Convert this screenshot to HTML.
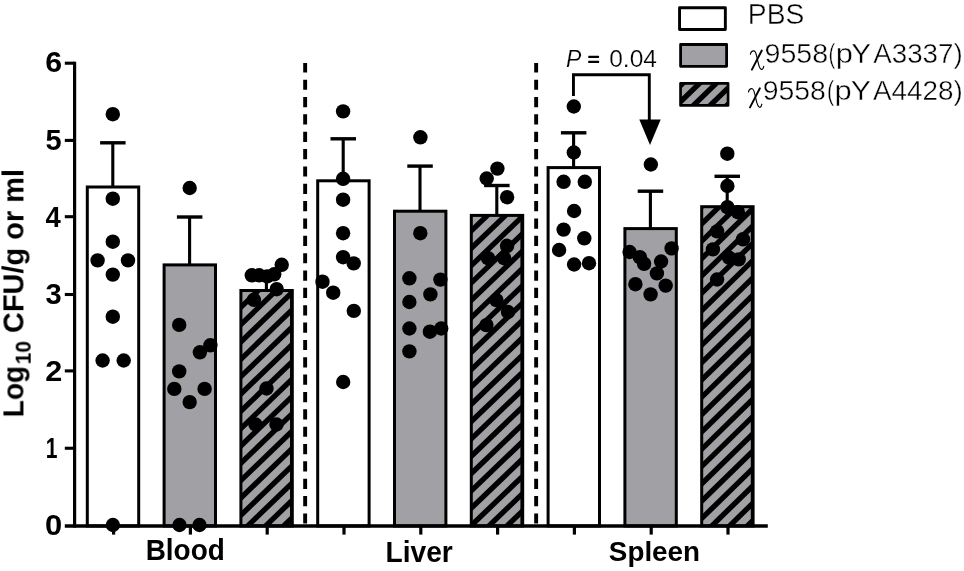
<!DOCTYPE html>
<html><head><meta charset="utf-8"><title>chart</title>
<style>
html,body{margin:0;padding:0;background:#fff;}
body{width:964px;height:571px;overflow:hidden;}
svg{display:block;}
text{font-family:"Liberation Sans",sans-serif;fill:#000;font-kerning:none;will-change:transform;}
</style></head><body>
<svg width="964" height="571" viewBox="0 0 964 571">
<rect width="964" height="571" fill="#fff"/>

<rect x="87.30" y="187.00" width="51.40" height="338.95" fill="#fff"/>
<rect x="87.30" y="187.00" width="51.40" height="338.95" fill="none" stroke="#000" stroke-width="3"/>
<rect x="164.10" y="264.90" width="51.40" height="261.05" fill="#a1a0a5"/>
<rect x="164.10" y="264.90" width="51.40" height="261.05" fill="none" stroke="#000" stroke-width="3"/>
<rect x="240.90" y="290.50" width="51.40" height="235.45" fill="#a1a0a5"/>
<clipPath id="c1"><rect x="240.90" y="290.50" width="51.40" height="235.45"/></clipPath>
<g clip-path="url(#c1)" stroke="#000" stroke-width="5.30">
<line x1="235.90" y1="277.37" x2="297.30" y2="218.12"/>
<line x1="235.90" y1="294.70" x2="297.30" y2="235.45"/>
<line x1="235.90" y1="312.03" x2="297.30" y2="252.78"/>
<line x1="235.90" y1="329.36" x2="297.30" y2="270.11"/>
<line x1="235.90" y1="346.69" x2="297.30" y2="287.44"/>
<line x1="235.90" y1="364.02" x2="297.30" y2="304.77"/>
<line x1="235.90" y1="381.35" x2="297.30" y2="322.10"/>
<line x1="235.90" y1="398.68" x2="297.30" y2="339.43"/>
<line x1="235.90" y1="416.01" x2="297.30" y2="356.76"/>
<line x1="235.90" y1="433.34" x2="297.30" y2="374.09"/>
<line x1="235.90" y1="450.67" x2="297.30" y2="391.42"/>
<line x1="235.90" y1="468.00" x2="297.30" y2="408.75"/>
<line x1="235.90" y1="485.33" x2="297.30" y2="426.08"/>
<line x1="235.90" y1="502.66" x2="297.30" y2="443.41"/>
<line x1="235.90" y1="519.99" x2="297.30" y2="460.74"/>
<line x1="235.90" y1="537.32" x2="297.30" y2="478.07"/>
<line x1="235.90" y1="554.65" x2="297.30" y2="495.40"/>
<line x1="235.90" y1="571.98" x2="297.30" y2="512.73"/>
<line x1="235.90" y1="589.31" x2="297.30" y2="530.06"/>
<line x1="235.90" y1="606.64" x2="297.30" y2="547.39"/>
</g>
<rect x="290.00" y="290.50" width="1.6" height="235.45" fill="#000"/>
<rect x="240.90" y="290.50" width="51.40" height="235.45" fill="none" stroke="#000" stroke-width="3"/>
<rect x="317.70" y="180.80" width="51.40" height="345.15" fill="#fff"/>
<rect x="317.70" y="180.80" width="51.40" height="345.15" fill="none" stroke="#000" stroke-width="3"/>
<rect x="394.50" y="211.20" width="51.40" height="314.75" fill="#a1a0a5"/>
<rect x="394.50" y="211.20" width="51.40" height="314.75" fill="none" stroke="#000" stroke-width="3"/>
<rect x="471.30" y="215.40" width="51.40" height="310.55" fill="#a1a0a5"/>
<clipPath id="c2"><rect x="471.30" y="215.40" width="51.40" height="310.55"/></clipPath>
<g clip-path="url(#c2)" stroke="#000" stroke-width="5.30">
<line x1="466.30" y1="201.02" x2="527.70" y2="142.08"/>
<line x1="466.30" y1="218.35" x2="527.70" y2="159.41"/>
<line x1="466.30" y1="235.68" x2="527.70" y2="176.74"/>
<line x1="466.30" y1="253.01" x2="527.70" y2="194.07"/>
<line x1="466.30" y1="270.34" x2="527.70" y2="211.40"/>
<line x1="466.30" y1="287.67" x2="527.70" y2="228.73"/>
<line x1="466.30" y1="305.00" x2="527.70" y2="246.06"/>
<line x1="466.30" y1="322.33" x2="527.70" y2="263.39"/>
<line x1="466.30" y1="339.66" x2="527.70" y2="280.72"/>
<line x1="466.30" y1="356.99" x2="527.70" y2="298.05"/>
<line x1="466.30" y1="374.32" x2="527.70" y2="315.38"/>
<line x1="466.30" y1="391.65" x2="527.70" y2="332.71"/>
<line x1="466.30" y1="408.98" x2="527.70" y2="350.04"/>
<line x1="466.30" y1="426.31" x2="527.70" y2="367.37"/>
<line x1="466.30" y1="443.64" x2="527.70" y2="384.70"/>
<line x1="466.30" y1="460.97" x2="527.70" y2="402.03"/>
<line x1="466.30" y1="478.30" x2="527.70" y2="419.36"/>
<line x1="466.30" y1="495.63" x2="527.70" y2="436.69"/>
<line x1="466.30" y1="512.96" x2="527.70" y2="454.02"/>
<line x1="466.30" y1="530.29" x2="527.70" y2="471.35"/>
<line x1="466.30" y1="547.62" x2="527.70" y2="488.68"/>
<line x1="466.30" y1="564.95" x2="527.70" y2="506.01"/>
<line x1="466.30" y1="582.28" x2="527.70" y2="523.34"/>
<line x1="466.30" y1="599.61" x2="527.70" y2="540.67"/>
</g>
<rect x="520.40" y="215.40" width="1.6" height="310.55" fill="#000"/>
<rect x="471.30" y="215.40" width="51.40" height="310.55" fill="none" stroke="#000" stroke-width="3"/>
<rect x="548.10" y="167.60" width="51.40" height="358.35" fill="#fff"/>
<rect x="548.10" y="167.60" width="51.40" height="358.35" fill="none" stroke="#000" stroke-width="3"/>
<rect x="624.90" y="228.60" width="51.40" height="297.35" fill="#a1a0a5"/>
<rect x="624.90" y="228.60" width="51.40" height="297.35" fill="none" stroke="#000" stroke-width="3"/>
<rect x="701.70" y="206.70" width="51.40" height="319.25" fill="#a1a0a5"/>
<clipPath id="c3"><rect x="701.70" y="206.70" width="51.40" height="319.25"/></clipPath>
<g clip-path="url(#c3)" stroke="#000" stroke-width="5.30">
<line x1="696.70" y1="194.09" x2="758.10" y2="134.10"/>
<line x1="696.70" y1="211.42" x2="758.10" y2="151.43"/>
<line x1="696.70" y1="228.75" x2="758.10" y2="168.76"/>
<line x1="696.70" y1="246.08" x2="758.10" y2="186.09"/>
<line x1="696.70" y1="263.41" x2="758.10" y2="203.42"/>
<line x1="696.70" y1="280.74" x2="758.10" y2="220.75"/>
<line x1="696.70" y1="298.07" x2="758.10" y2="238.08"/>
<line x1="696.70" y1="315.40" x2="758.10" y2="255.41"/>
<line x1="696.70" y1="332.73" x2="758.10" y2="272.74"/>
<line x1="696.70" y1="350.06" x2="758.10" y2="290.07"/>
<line x1="696.70" y1="367.39" x2="758.10" y2="307.40"/>
<line x1="696.70" y1="384.72" x2="758.10" y2="324.73"/>
<line x1="696.70" y1="402.05" x2="758.10" y2="342.06"/>
<line x1="696.70" y1="419.38" x2="758.10" y2="359.39"/>
<line x1="696.70" y1="436.71" x2="758.10" y2="376.72"/>
<line x1="696.70" y1="454.04" x2="758.10" y2="394.05"/>
<line x1="696.70" y1="471.37" x2="758.10" y2="411.38"/>
<line x1="696.70" y1="488.70" x2="758.10" y2="428.71"/>
<line x1="696.70" y1="506.03" x2="758.10" y2="446.04"/>
<line x1="696.70" y1="523.36" x2="758.10" y2="463.37"/>
<line x1="696.70" y1="540.69" x2="758.10" y2="480.70"/>
<line x1="696.70" y1="558.02" x2="758.10" y2="498.03"/>
<line x1="696.70" y1="575.35" x2="758.10" y2="515.36"/>
<line x1="696.70" y1="592.68" x2="758.10" y2="532.69"/>
<line x1="696.70" y1="610.01" x2="758.10" y2="550.02"/>
</g>
<rect x="750.80" y="206.70" width="1.6" height="319.25" fill="#000"/>
<rect x="701.70" y="206.70" width="51.40" height="319.25" fill="none" stroke="#000" stroke-width="3"/>
<path d="M112.80,187.00 V142.60" stroke="#000" stroke-width="3.1" fill="none"/><path d="M100.10,142.80 H125.60" stroke="#000" stroke-width="3.4" fill="none"/>
<path d="M189.60,264.90 V216.80" stroke="#000" stroke-width="3.1" fill="none"/><path d="M176.90,217.00 H202.40" stroke="#000" stroke-width="3.4" fill="none"/>
<path d="M266.40,290.50 V277.00" stroke="#000" stroke-width="3.1" fill="none"/><path d="M253.70,277.20 H279.20" stroke="#000" stroke-width="3.4" fill="none"/>
<path d="M343.20,180.80 V138.60" stroke="#000" stroke-width="3.1" fill="none"/><path d="M330.50,138.80 H356.00" stroke="#000" stroke-width="3.4" fill="none"/>
<path d="M420.00,211.20 V165.90" stroke="#000" stroke-width="3.1" fill="none"/><path d="M407.30,166.10 H432.80" stroke="#000" stroke-width="3.4" fill="none"/>
<path d="M496.80,215.40 V185.30" stroke="#000" stroke-width="3.1" fill="none"/><path d="M484.10,185.50 H509.60" stroke="#000" stroke-width="3.4" fill="none"/>
<path d="M573.60,167.60 V132.60" stroke="#000" stroke-width="3.1" fill="none"/><path d="M560.90,132.80 H586.40" stroke="#000" stroke-width="3.4" fill="none"/>
<path d="M650.40,228.60 V191.00" stroke="#000" stroke-width="3.1" fill="none"/><path d="M637.70,191.20 H663.20" stroke="#000" stroke-width="3.4" fill="none"/>
<path d="M727.20,206.70 V176.10" stroke="#000" stroke-width="3.1" fill="none"/><path d="M714.50,176.30 H740.00" stroke="#000" stroke-width="3.4" fill="none"/>
<line x1="305.15" y1="63.0" x2="305.15" y2="525" stroke="#000" stroke-width="3.9" stroke-dasharray="10.2 7.15" stroke-dashoffset="0.7"/>
<line x1="536.15" y1="63.0" x2="536.15" y2="525" stroke="#000" stroke-width="3.9" stroke-dasharray="10.2 7.15" stroke-dashoffset="0.7"/>
<path d="M74.6,61.65 V527.55" stroke="#000" stroke-width="3.2" fill="none"/>
<path d="M64.8,525.95 H767.8" stroke="#000" stroke-width="3.4" fill="none"/>
<path d="M64.8,448.25 H74.6" stroke="#000" stroke-width="3.1"/>
<path d="M64.8,370.90 H74.6" stroke="#000" stroke-width="3.1"/>
<path d="M64.8,294.50 H74.6" stroke="#000" stroke-width="3.1"/>
<path d="M64.8,216.70 H74.6" stroke="#000" stroke-width="3.1"/>
<path d="M64.8,140.40 H74.6" stroke="#000" stroke-width="3.1"/>
<path d="M64.8,63.20 H74.6" stroke="#000" stroke-width="3.1"/>
<path d="M113.60,525.95 V534.6" stroke="#000" stroke-width="3.2"/>
<path d="M190.40,525.95 V534.6" stroke="#000" stroke-width="3.2"/>
<path d="M267.20,525.95 V534.6" stroke="#000" stroke-width="3.2"/>
<path d="M344.00,525.95 V534.6" stroke="#000" stroke-width="3.2"/>
<path d="M420.80,525.95 V534.6" stroke="#000" stroke-width="3.2"/>
<path d="M497.60,525.95 V534.6" stroke="#000" stroke-width="3.2"/>
<path d="M574.40,525.95 V534.6" stroke="#000" stroke-width="3.2"/>
<path d="M651.20,525.95 V534.6" stroke="#000" stroke-width="3.2"/>
<path d="M728.00,525.95 V534.6" stroke="#000" stroke-width="3.2"/>
<circle cx="112.80" cy="114.20" r="7.2"/>
<circle cx="112.80" cy="198.70" r="7.2"/>
<circle cx="112.80" cy="241.70" r="7.2"/>
<circle cx="97.60" cy="260.40" r="7.2"/>
<circle cx="128.00" cy="260.40" r="7.2"/>
<circle cx="112.80" cy="274.60" r="7.2"/>
<circle cx="112.80" cy="316.70" r="7.2"/>
<circle cx="102.60" cy="360.50" r="7.2"/>
<circle cx="123.70" cy="360.50" r="7.2"/>
<circle cx="112.90" cy="525.00" r="7.2"/>
<circle cx="189.70" cy="188.00" r="7.2"/>
<circle cx="179.20" cy="324.90" r="7.2"/>
<circle cx="210.40" cy="345.30" r="7.2"/>
<circle cx="199.90" cy="352.30" r="7.2"/>
<circle cx="179.20" cy="371.40" r="7.2"/>
<circle cx="174.30" cy="388.90" r="7.2"/>
<circle cx="204.60" cy="388.90" r="7.2"/>
<circle cx="189.70" cy="402.10" r="7.2"/>
<circle cx="179.50" cy="525.00" r="7.2"/>
<circle cx="199.50" cy="525.00" r="7.2"/>
<circle cx="281.70" cy="264.80" r="7.2"/>
<circle cx="251.80" cy="275.30" r="7.2"/>
<circle cx="259.20" cy="275.30" r="7.2"/>
<circle cx="267.20" cy="276.40" r="7.2"/>
<circle cx="274.20" cy="274.30" r="7.2"/>
<circle cx="276.70" cy="289.20" r="7.2"/>
<circle cx="253.90" cy="299.80" r="7.2"/>
<circle cx="266.50" cy="388.50" r="7.2"/>
<circle cx="255.50" cy="424.50" r="7.2"/>
<circle cx="276.50" cy="424.50" r="7.2"/>
<circle cx="343.10" cy="111.40" r="7.2"/>
<circle cx="343.10" cy="178.80" r="7.2"/>
<circle cx="343.10" cy="199.70" r="7.2"/>
<circle cx="343.10" cy="233.20" r="7.2"/>
<circle cx="343.10" cy="257.20" r="7.2"/>
<circle cx="353.70" cy="263.40" r="7.2"/>
<circle cx="322.50" cy="281.70" r="7.2"/>
<circle cx="333.20" cy="292.70" r="7.2"/>
<circle cx="353.80" cy="310.90" r="7.2"/>
<circle cx="343.20" cy="382.00" r="7.2"/>
<circle cx="420.40" cy="137.30" r="7.2"/>
<circle cx="420.30" cy="233.20" r="7.2"/>
<circle cx="409.40" cy="278.30" r="7.2"/>
<circle cx="440.40" cy="279.60" r="7.2"/>
<circle cx="430.40" cy="294.40" r="7.2"/>
<circle cx="409.40" cy="302.00" r="7.2"/>
<circle cx="409.40" cy="328.50" r="7.2"/>
<circle cx="429.90" cy="331.70" r="7.2"/>
<circle cx="441.20" cy="328.50" r="7.2"/>
<circle cx="409.40" cy="351.40" r="7.2"/>
<circle cx="497.40" cy="168.60" r="7.2"/>
<circle cx="486.70" cy="178.50" r="7.2"/>
<circle cx="507.10" cy="197.20" r="7.2"/>
<circle cx="507.10" cy="245.80" r="7.2"/>
<circle cx="488.00" cy="258.20" r="7.2"/>
<circle cx="504.10" cy="258.20" r="7.2"/>
<circle cx="496.40" cy="300.10" r="7.2"/>
<circle cx="508.00" cy="312.00" r="7.2"/>
<circle cx="486.40" cy="325.10" r="7.2"/>
<circle cx="573.80" cy="106.50" r="7.2"/>
<circle cx="573.80" cy="152.50" r="7.2"/>
<circle cx="563.60" cy="181.80" r="7.2"/>
<circle cx="584.80" cy="181.80" r="7.2"/>
<circle cx="574.10" cy="211.00" r="7.2"/>
<circle cx="563.60" cy="229.60" r="7.2"/>
<circle cx="584.30" cy="238.30" r="7.2"/>
<circle cx="559.10" cy="250.00" r="7.2"/>
<circle cx="574.10" cy="264.50" r="7.2"/>
<circle cx="589.00" cy="263.20" r="7.2"/>
<circle cx="650.85" cy="164.50" r="7.2"/>
<circle cx="629.60" cy="252.00" r="7.2"/>
<circle cx="671.60" cy="248.40" r="7.2"/>
<circle cx="639.80" cy="257.10" r="7.2"/>
<circle cx="644.10" cy="263.80" r="7.2"/>
<circle cx="661.10" cy="261.50" r="7.2"/>
<circle cx="656.90" cy="273.40" r="7.2"/>
<circle cx="635.40" cy="284.20" r="7.2"/>
<circle cx="665.70" cy="285.60" r="7.2"/>
<circle cx="650.60" cy="294.40" r="7.2"/>
<circle cx="727.30" cy="153.70" r="7.2"/>
<circle cx="727.40" cy="186.00" r="7.2"/>
<circle cx="727.40" cy="207.20" r="7.2"/>
<circle cx="737.90" cy="212.20" r="7.2"/>
<circle cx="717.10" cy="231.40" r="7.2"/>
<circle cx="743.00" cy="239.30" r="7.2"/>
<circle cx="712.90" cy="249.40" r="7.2"/>
<circle cx="729.00" cy="257.60" r="7.2"/>
<circle cx="738.70" cy="259.40" r="7.2"/>
<circle cx="717.10" cy="279.50" r="7.2"/>
<text transform="translate(44.96,535.11) scale(1.1053,1.0211)" style="font-family:'Liberation Sans'" font-size="28" font-weight="bold">0</text>
<text transform="translate(45.63,457.90) scale(0.7527,1.0378)" style="font-family:'Liberation Sans'" font-size="28" font-weight="bold">1</text>
<text transform="translate(45.13,380.90) scale(1.0937,1.0281)" style="font-family:'Liberation Sans'" font-size="28" font-weight="bold">2</text>
<text transform="translate(45.57,303.81) scale(1.0390,1.0211)" style="font-family:'Liberation Sans'" font-size="28" font-weight="bold">3</text>
<text transform="translate(45.59,226.80) scale(0.9813,1.0507)" style="font-family:'Liberation Sans'" font-size="28" font-weight="bold">4</text>
<text transform="translate(45.43,150.20) scale(1.0357,1.0561)" style="font-family:'Liberation Sans'" font-size="28" font-weight="bold">5</text>
<text transform="translate(45.14,72.41) scale(1.0825,1.0412)" style="font-family:'Liberation Sans'" font-size="28" font-weight="bold">6</text>
<text transform="translate(145.68,559.70) scale(0.9974,1.0559)" style="font-family:'Liberation Sans'" font-size="28" font-weight="bold">Blood</text>
<text transform="translate(385.47,561.50) scale(1.0065,1.0507)" style="font-family:'Liberation Sans'" font-size="28" font-weight="bold">Liver</text>
<text transform="translate(608.87,561.00) scale(0.9931,0.9754)" style="font-family:'Liberation Sans'" font-size="28" font-weight="bold">Spleen</text>
<g transform="translate(0,415.5) rotate(-90)">
<text transform="translate(-1.82,23.90) scale(1.0021,1.0559)" style="font-family:'Liberation Sans'" font-size="28" font-weight="bold">Log</text>
<text transform="translate(51.14,31.00) scale(0.9974,1.0663)" style="font-family:'Liberation Sans'" font-size="21" font-weight="bold">10</text>
<text transform="translate(82.44,23.90) scale(1.0345,1.0559)" style="font-family:'Liberation Sans'" font-size="28" font-weight="bold">CFU/g or ml</text>
</g>
<rect x="679.55" y="7.75" width="45.80" height="21.70" fill="#fff" stroke="#000" stroke-width="2.90" stroke-linejoin="round"/>
<rect x="680.60" y="44.50" width="46.00" height="21.85" fill="#a1a0a5" stroke="#000" stroke-width="2.80" stroke-linejoin="round"/>
<rect x="680" y="83" width="48.6" height="23" fill="#a1a0a5"/>
<clipPath id="c4"><rect x="680.40" y="83.20" width="48.00" height="22.30"/></clipPath>
<g clip-path="url(#c4)" stroke="#000" stroke-width="5.30">
<line x1="675.40" y1="58.12" x2="733.40" y2="1.86"/>
<line x1="675.40" y1="74.32" x2="733.40" y2="18.06"/>
<line x1="675.40" y1="90.52" x2="733.40" y2="34.26"/>
<line x1="675.40" y1="106.72" x2="733.40" y2="50.46"/>
<line x1="675.40" y1="122.91" x2="733.40" y2="66.66"/>
<line x1="675.40" y1="139.11" x2="733.40" y2="82.85"/>
<line x1="675.40" y1="155.31" x2="733.40" y2="99.05"/>
<line x1="675.40" y1="171.51" x2="733.40" y2="115.25"/>
<line x1="675.40" y1="187.71" x2="733.40" y2="131.45"/>
</g>
<rect x="680.55" y="83.35" width="47.50" height="22.05" fill="none" stroke="#000" stroke-width="2.70" stroke-linejoin="round"/>
<text transform="translate(747.84,23.70) scale(1.0076,1.0300)" style="font-family:'Liberation Sans'" font-size="28" stroke="#fff" stroke-width="0.4">PBS</text>
<g transform="translate(750.10,49.80)" fill="none" stroke="#000" stroke-linecap="round"><path d="M11.7,0.7 L1.8,19.8" stroke-width="1.9"/><path d="M0.3,4.4 C0.6,1.8 2.4,0.7 4.1,1.1 C5.8,1.6 6.3,5.0 7.3,9.5 C8.3,14.0 9.0,18.6 11.0,19.5 C12.5,20.1 13.3,18.4 13.6,16.6" stroke-width="1.15"/></g>
<g transform="translate(748.20,87.60)" fill="none" stroke="#000" stroke-linecap="round"><path d="M11.7,0.7 L1.8,19.8" stroke-width="1.9"/><path d="M0.3,4.4 C0.6,1.8 2.4,0.7 4.1,1.1 C5.8,1.6 6.3,5.0 7.3,9.5 C8.3,14.0 9.0,18.6 11.0,19.5 C12.5,20.1 13.3,18.4 13.6,16.6" stroke-width="1.15"/></g>
<text transform="translate(764.51,62.90) scale(1.0214,1.0041)" style="font-family:'Liberation Sans'" font-size="28" stroke="#fff" stroke-width="0.4">9558</text>
<text transform="translate(828.58,62.90) scale(0.7278,1.0041)" style="font-family:'Liberation Sans'" font-size="28" stroke="#fff" stroke-width="0.4">(</text>
<text transform="translate(835.69,62.90) scale(1.1032,1.0041)" style="font-family:'Liberation Sans'" font-size="28" stroke="#fff" stroke-width="0.4">p</text>
<text transform="translate(851.36,62.90) scale(1.0599,1.0041)" style="font-family:'Liberation Sans'" font-size="28" stroke="#fff" stroke-width="0.4">Y</text>
<text transform="translate(873.26,62.90) scale(0.9905,1.0041)" style="font-family:'Liberation Sans'" font-size="28" stroke="#fff" stroke-width="0.4">A3337)</text>
<text transform="translate(762.67,100.40) scale(1.0139,1.0041)" style="font-family:'Liberation Sans'" font-size="28" stroke="#fff" stroke-width="0.4">9558</text>
<text transform="translate(826.91,100.40) scale(0.7682,1.0041)" style="font-family:'Liberation Sans'" font-size="28" stroke="#fff" stroke-width="0.4">(</text>
<text transform="translate(834.39,100.40) scale(1.1032,1.0041)" style="font-family:'Liberation Sans'" font-size="28" stroke="#fff" stroke-width="0.4">p</text>
<text transform="translate(850.64,100.40) scale(1.0829,1.0041)" style="font-family:'Liberation Sans'" font-size="28" stroke="#fff" stroke-width="0.4">Y</text>
<text transform="translate(872.96,100.40) scale(0.9939,1.0041)" style="font-family:'Liberation Sans'" font-size="28" stroke="#fff" stroke-width="0.4">A4428)</text>
<path d="M573.45,96.1 V74.7 H649.3 V121" stroke="#000" stroke-width="2.9" fill="none"/>
<path d="M639.3,119.6 H660.7 L650,145.1 Z" fill="#000"/>
<text transform="translate(566.01,67.35) scale(1.0007,1.0491)" style="font-family:'Liberation Sans'" font-size="23" font-style="italic" stroke="#fff" stroke-width="0.2">P</text>
<rect x="588.2" y="55.8" width="10.9" height="2.1" rx="0.6"/><rect x="588.2" y="60.85" width="10.9" height="2.15" rx="0.6"/>
<text transform="translate(609.22,67.35) scale(1.0667,1.0491)" style="font-family:'Liberation Sans'" font-size="23" stroke="#fff" stroke-width="0.2">0.04</text>
</svg></body></html>
